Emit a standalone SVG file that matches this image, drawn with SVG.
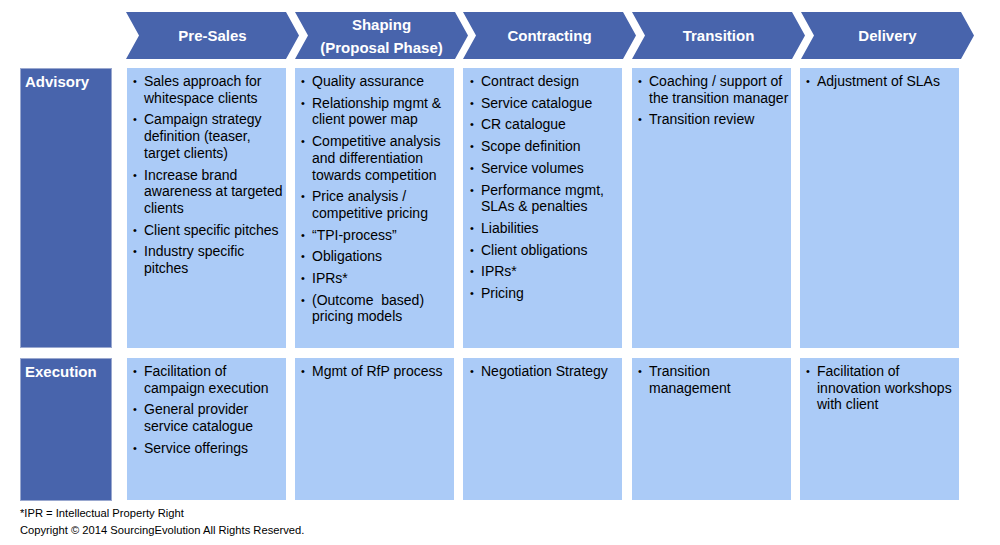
<svg xmlns="http://www.w3.org/2000/svg" width="1000" height="545" viewBox="0 0 1000 545">
<defs>
<style>
.chev{fill:#4864AC;}
.lab{fill:#4864AC;stroke:#9AA8CF;stroke-width:1;}
.cell{fill:#ABCBF7;}
.hd{font-family:"Liberation Sans",Arial,sans-serif;font-size:15px;font-weight:bold;fill:#FFFFFF;text-anchor:middle;}
.lt{font-family:"Liberation Sans",Arial,sans-serif;font-size:15px;font-weight:bold;fill:#FFFFFF;}
.t{font-family:"Liberation Sans",Arial,sans-serif;font-size:14px;fill:#000000;}
.b{font-family:"Liberation Sans",Arial,sans-serif;font-size:11px;fill:#000000;}
.ft{font-family:"Liberation Sans",Arial,sans-serif;font-size:11.2px;fill:#000000;}
</style>
<polygon id="chevShape" points="0,12 160,12 173,35.5 160,59 0,59 13,35.5"/>
</defs>
<rect width="1000" height="545" fill="#FFFFFF"/>

<g id="phase-presales">
<use href="#chevShape" x="126" class="chev"/>
<text class="hd" x="212.5" y="41">Pre-Sales</text>
</g>
<g id="phase-shaping">
<use href="#chevShape" x="295" class="chev"/>
<text class="hd" x="381.5" y="29.5">Shaping</text>
<text class="hd" x="381.5" y="52.5">(Proposal Phase)</text>
</g>
<g id="phase-contracting">
<use href="#chevShape" x="463" class="chev"/>
<text class="hd" x="549.5" y="41">Contracting</text>
</g>
<g id="phase-transition">
<use href="#chevShape" x="632" class="chev"/>
<text class="hd" x="718.5" y="41">Transition</text>
</g>
<g id="phase-delivery">
<use href="#chevShape" x="801" class="chev"/>
<text class="hd" x="887.5" y="41">Delivery</text>
</g>

<g id="row-advisory">
<rect class="lab" x="20.5" y="68.5" width="91" height="279"/>
<text class="lt" x="25" y="87">Advisory</text>
</g>
<g id="row-execution">
<rect class="lab" x="20.5" y="358.5" width="91" height="142"/>
<text class="lt" x="25" y="377">Execution</text>
</g>

<g id="cell-adv-presales">
<rect class="cell" x="127" y="68" width="159" height="280"/>
<text class="b" x="133" y="85">•</text><text class="t" x="144" y="86">Sales approach for</text>
<text class="t" x="144" y="102.7">whitespace clients</text>
<text class="b" x="133" y="123.4">•</text><text class="t" x="144" y="124.4">Campaign strategy</text>
<text class="t" x="144" y="141.1">definition (teaser,</text>
<text class="t" x="144" y="157.8">target clients)</text>
<text class="b" x="133" y="178.5">•</text><text class="t" x="144" y="179.5">Increase brand</text>
<text class="t" x="144" y="196.2">awareness at targeted</text>
<text class="t" x="144" y="212.9">clients</text>
<text class="b" x="133" y="233.6">•</text><text class="t" x="144" y="234.6">Client specific pitches</text>
<text class="b" x="133" y="255.3">•</text><text class="t" x="144" y="256.3">Industry specific</text>
<text class="t" x="144" y="273">pitches</text>
</g>

<g id="cell-adv-shaping">
<rect class="cell" x="295" y="68" width="159" height="280"/>
<text class="b" x="301" y="85">•</text><text class="t" x="312" y="86">Quality assurance</text>
<text class="b" x="301" y="106.7">•</text><text class="t" x="312" y="107.7">Relationship mgmt &amp;</text>
<text class="t" x="312" y="124.4">client power map</text>
<text class="b" x="301" y="145.1">•</text><text class="t" x="312" y="146.1">Competitive analysis</text>
<text class="t" x="312" y="162.8">and differentiation</text>
<text class="t" x="312" y="179.5">towards competition</text>
<text class="b" x="301" y="200.2">•</text><text class="t" x="312" y="201.2">Price analysis /</text>
<text class="t" x="312" y="217.9">competitive pricing</text>
<text class="b" x="301" y="238.6">•</text><text class="t" x="312" y="239.6">“TPI-process”</text>
<text class="b" x="301" y="260.3">•</text><text class="t" x="312" y="261.3">Obligations</text>
<text class="b" x="301" y="282">•</text><text class="t" x="312" y="283">IPRs*</text>
<text class="b" x="301" y="303.7">•</text><text class="t" x="312" y="304.7" xml:space="preserve">(Outcome  based)</text>
<text class="t" x="312" y="321.4">pricing models</text>
</g>

<g id="cell-adv-contracting">
<rect class="cell" x="463" y="68" width="159" height="280"/>
<text class="b" x="470" y="85">•</text><text class="t" x="481" y="86">Contract design</text>
<text class="b" x="470" y="106.7">•</text><text class="t" x="481" y="107.7">Service catalogue</text>
<text class="b" x="470" y="128.4">•</text><text class="t" x="481" y="129.4">CR catalogue</text>
<text class="b" x="470" y="150.1">•</text><text class="t" x="481" y="151.1">Scope definition</text>
<text class="b" x="470" y="171.8">•</text><text class="t" x="481" y="172.8">Service volumes</text>
<text class="b" x="470" y="193.5">•</text><text class="t" x="481" y="194.5">Performance mgmt,</text>
<text class="t" x="481" y="211.2">SLAs &amp; penalties</text>
<text class="b" x="470" y="231.9">•</text><text class="t" x="481" y="232.9">Liabilities</text>
<text class="b" x="470" y="253.6">•</text><text class="t" x="481" y="254.6">Client obligations</text>
<text class="b" x="470" y="275.3">•</text><text class="t" x="481" y="276.3">IPRs*</text>
<text class="b" x="470" y="297">•</text><text class="t" x="481" y="298">Pricing</text>
</g>

<g id="cell-adv-transition">
<rect class="cell" x="632" y="68" width="159" height="280"/>
<text class="b" x="638" y="85">•</text><text class="t" x="649" y="86">Coaching / support of</text>
<text class="t" x="649" y="102.7">the transition manager</text>
<text class="b" x="638" y="123.4">•</text><text class="t" x="649" y="124.4">Transition review</text>
</g>

<g id="cell-adv-delivery">
<rect class="cell" x="800" y="68" width="159" height="280"/>
<text class="b" x="806" y="85">•</text><text class="t" x="817" y="86">Adjustment of SLAs</text>
</g>

<g id="cell-exe-presales">
<rect class="cell" x="127" y="358" width="159" height="142"/>
<text class="b" x="133" y="375">•</text><text class="t" x="144" y="376">Facilitation of</text>
<text class="t" x="144" y="392.7">campaign execution</text>
<text class="b" x="133" y="413.4">•</text><text class="t" x="144" y="414.4">General provider</text>
<text class="t" x="144" y="431.1">service catalogue</text>
<text class="b" x="133" y="451.8">•</text><text class="t" x="144" y="452.8">Service offerings</text>
</g>

<g id="cell-exe-shaping">
<rect class="cell" x="295" y="358" width="159" height="142"/>
<text class="b" x="301" y="375">•</text><text class="t" x="312" y="376">Mgmt of RfP process</text>
</g>

<g id="cell-exe-contracting">
<rect class="cell" x="463" y="358" width="159" height="142"/>
<text class="b" x="470" y="375">•</text><text class="t" x="481" y="376">Negotiation Strategy</text>
</g>

<g id="cell-exe-transition">
<rect class="cell" x="632" y="358" width="159" height="142"/>
<text class="b" x="638" y="375">•</text><text class="t" x="649" y="376">Transition</text>
<text class="t" x="649" y="392.7">management</text>
</g>

<g id="cell-exe-delivery">
<rect class="cell" x="800" y="358" width="159" height="142"/>
<text class="b" x="806" y="375">•</text><text class="t" x="817" y="376">Facilitation of</text>
<text class="t" x="817" y="392.7">innovation workshops</text>
<text class="t" x="817" y="409.4">with client</text>
</g>

<g id="connectors"></g>

<g id="footer">
<text class="ft" x="20" y="517">*IPR = Intellectual Property Right</text>
<text class="ft" x="20" y="534">Copyright © 2014 SourcingEvolution All Rights Reserved.</text>
</g>
</svg>
